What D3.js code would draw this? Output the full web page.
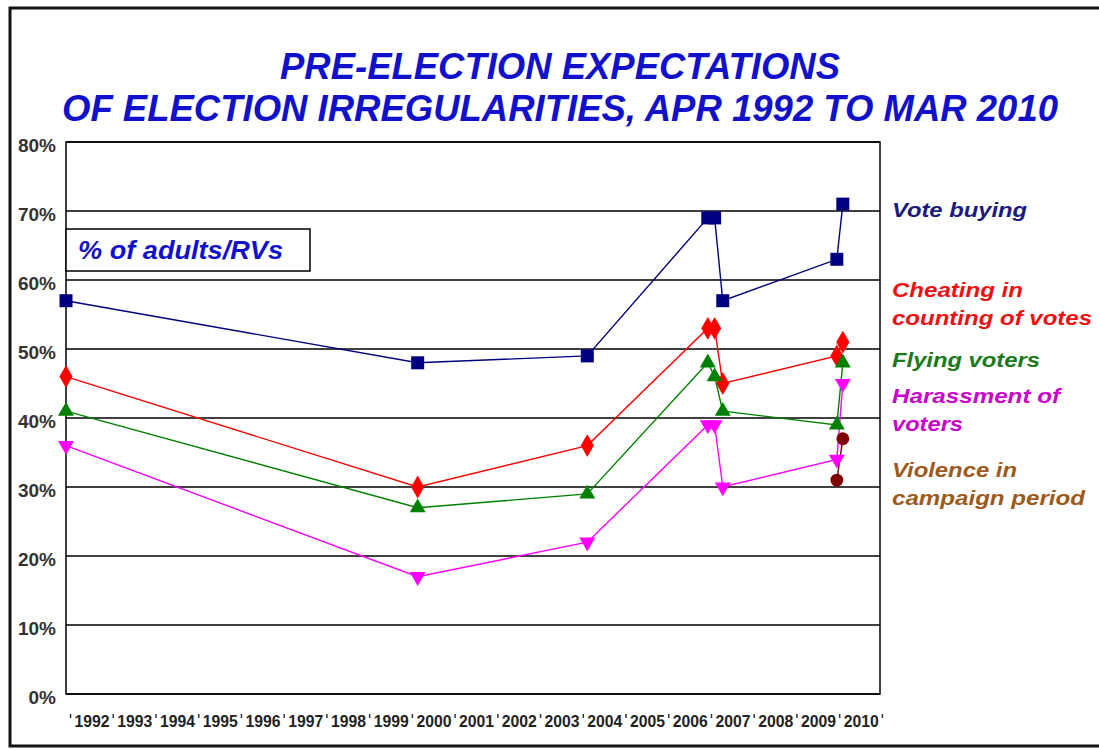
<!DOCTYPE html>
<meta charset="utf-8">
<body style="margin:0;background:#fff">
<script src="https://cdn.jsdelivr.net/npm/d3@7"></script>
<svg id="chart" width="1099" height="749"></svg>
<script>
// survey dates as decimal years
var surveyDates = [1991.8, 2000.03, 2004.0, 2006.82, 2006.98, 2007.17, 2009.84, 2009.98];
var voteBuying   = [57, 48, 49, 69, 69, 57, 63, 71];
var cheating     = [46, 30, 36, 53, 53, 45, 49, 51];
var flyingVoters = [41, 27, 29, 48, 46, 41, 39, 48];
var harassment   = [36, 17, 22, 39, 39, 30, 34, 45];
var violence     = [null, null, null, null, null, null, 31, 37];
var yearLabels = d3.range(1992, 2011);
var yTicks = [0, 10, 20, 30, 40, 50, 60, 70, 80];

var font = "'Liberation Sans', Arial, sans-serif";
var svg = d3.select("#chart");

var x = d3.scaleLinear().domain([1991.8, 2010.85]).range([66, 880]);
var y = d3.scaleLinear().domain([0, 80]).range([694, 142]);

// outer frame
svg.append("rect").attr("x", 10).attr("y", 8).attr("width", 1100).attr("height", 738)
  .attr("fill", "none").attr("stroke", "#111").attr("stroke-width", 3);

// title
var title = [["PRE-ELECTION EXPECTATIONS", 79, 560], ["OF ELECTION IRREGULARITIES, APR 1992 TO MAR 2010", 121, 996]];
title.forEach(function(t) {
  svg.append("text").attr("x", 560).attr("y", t[1]).attr("text-anchor", "middle")
    .attr("font-family", font).attr("font-size", 36).attr("font-weight", "bold").attr("font-style", "italic")
    .attr("fill", "#1111cc").attr("textLength", t[2]).attr("lengthAdjust", "spacingAndGlyphs")
    .text(t[0]);
});

// plot frame + gridlines
svg.append("rect").attr("x", 66).attr("y", 142).attr("width", 814).attr("height", 552)
  .attr("fill", "#fff").attr("stroke", "#000").attr("stroke-width", 1.5);
svg.selectAll(".grid").data(yTicks).enter().append("line")
  .attr("x1", 66).attr("x2", 880).attr("y1", function(d) { return y(d); }).attr("y2", function(d) { return y(d); })
  .attr("stroke", "#000").attr("stroke-width", 1.5);

// y labels
svg.selectAll(".ylab").data(yTicks).enter().append("text")
  .attr("x", 56).attr("y", function(d) { return y(d) + 10; }).attr("text-anchor", "end")
  .attr("font-family", font).attr("font-size", 19).attr("font-weight", "bold").attr("fill", "#333")
  .text(function(d) { return d + "%"; });

// x labels with the little tick marks
svg.selectAll(".xlab").data(yearLabels).enter().append("text")
  .attr("x", function(d) { return x(d); }).attr("y", 727)
  .attr("font-family", font).attr("font-size", 16).attr("font-weight", "bold").attr("fill", "#222")
  .attr("textLength", 35).attr("lengthAdjust", "spacingAndGlyphs")
  .text(function(d) { return d; });
svg.selectAll(".xtick").data(d3.range(1992, 2012)).enter().append("line")
  .attr("x1", function(d) { return x(d) - 4; }).attr("x2", function(d) { return x(d) - 4; })
  .attr("y1", 714).attr("y2", 718).attr("stroke", "#333").attr("stroke-width", 1.5);

// inset box
svg.append("rect").attr("x", 66).attr("y", 229).attr("width", 244).attr("height", 42)
  .attr("fill", "#fff").attr("stroke", "#000").attr("stroke-width", 1.5);
svg.append("text").attr("x", 78).attr("y", 259)
  .attr("font-family", font).attr("font-size", 25).attr("font-weight", "bold").attr("font-style", "italic")
  .attr("fill", "#1111cc").attr("textLength", 205).attr("lengthAdjust", "spacingAndGlyphs")
  .text("% of adults/RVs");

// series
var series = [
  {name: "vote", values: voteBuying, color: "#000080", sym: d3.symbolSquare, size: 169, rot: 0},
  {name: "cheat", values: cheating, color: "#ff0000", sym: d3.symbolDiamond, size: 150, rot: 0},
  {name: "fly", values: flyingVoters, color: "#008000", sym: d3.symbolTriangle, size: 110, rot: 0},
  {name: "harass", values: harassment, color: "#ff00ff", sym: d3.symbolTriangle, size: 110, rot: 180},
  {name: "viol", values: violence, color: "#800000", sym: d3.symbolCircle, size: 130, rot: 0}
];

var line = d3.line()
  .defined(function(d) { return d[1] != null; })
  .x(function(d) { return x(d[0]); })
  .y(function(d) { return y(d[1]); });

series.forEach(function(s) {
  var pts = surveyDates.map(function(t, i) { return [t, s.values[i]]; });
  svg.append("path").datum(pts).attr("d", line)
    .attr("fill", "none").attr("stroke", s.color).attr("stroke-width", 1.4);
});
series.forEach(function(s) {
  var pts = surveyDates.map(function(t, i) { return [t, s.values[i]]; }).filter(function(d) { return d[1] != null; });
  svg.selectAll(".m-" + s.name).data(pts).enter().append("path")
    .attr("d", d3.symbol().type(s.sym).size(s.size))
    .attr("transform", function(d) { return "translate(" + x(d[0]) + "," + y(d[1]) + ") rotate(" + s.rot + ")"; })
    .attr("fill", s.color);
});

// right-hand labels
var labels = [
  ["Vote buying", 217, 135, "#1a1a80"],
  ["Cheating in", 297, 131, "#f01010"],
  ["counting of votes", 325, 200, "#f01010"],
  ["Flying voters", 367, 148, "#1a7a1a"],
  ["Harassment of", 403, 168, "#cc00cc"],
  ["voters", 431, 71, "#cc00cc"],
  ["Violence in", 477, 125, "#9c5a1c"],
  ["campaign period", 505, 193, "#9c5a1c"]
];
labels.forEach(function(l) {
  svg.append("text").attr("x", 892).attr("y", l[1])
    .attr("font-family", font).attr("font-size", 21).attr("font-weight", "bold").attr("font-style", "italic")
    .attr("fill", l[3]).attr("textLength", l[2]).attr("lengthAdjust", "spacingAndGlyphs")
    .text(l[0]);
});
</script>
</body>
